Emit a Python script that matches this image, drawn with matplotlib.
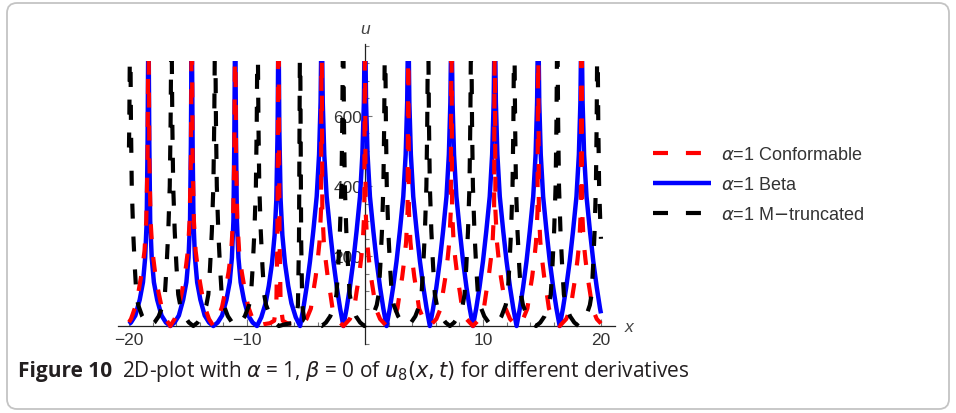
import numpy as np
import matplotlib.pyplot as plt
from matplotlib.patches import FancyBboxPatch, Rectangle
from matplotlib.transforms import IdentityTransform
from matplotlib.ticker import MultipleLocator

# plotted domain
x_start, x_end = -20.0, 20.0
u_clip = 757  # plot range top, curves are cut here

# pole / zero positions
beta_poles = [-18.35, -14.68, -11.0, -7.33, -3.67, 0.0, 3.67, 7.33, 11.0, 14.68, 18.35]
beta_zeros = [-20.2, -16.5, -12.85, -9.15, -5.5, -1.83, 1.83, 5.5, 9.15, 12.85, 16.5, 20.2]
beta_shape = ['narrow'] * 3 + ['mid'] + ['broad'] * 7

conf_poles = [-18.35, -14.68, -11.0, -7.33, -3.67, 0.0, 3.67, 7.33, 11.0, 14.68, 18.35]
conf_zeros = [-20.2, -16.5, -12.85, -9.15, -5.5, -1.83, 1.83, 5.5, 9.15, 12.85, 16.5, 20.2]
conf_shape = ['wide_l'] * 3 + ['spike'] + ['wide_r'] * 7

mtr_poles = [-19.9, -16.4, -12.7, -9.1, -5.5, -1.85, 1.7, 5.35, 9.0, 12.65, 16.3, 19.7]
mtr_zeros = [-21.7, -18.2, -14.55, -10.9, -7.3, -3.67, -0.05, 3.55, 7.2, 10.85, 14.5, 18.1, 21.5]
mtr_shape = ['tight'] * 4 + ['spike'] + ['tight'] * 7

# branch profiles: fraction of the way from zero to pole -> u
profiles = {
    'narrow': ([0, .2, .4, .6, .75, .85, .92, .96, 1.0],
               [0, 10, 30, 75, 125, 195, 300, 520, 900]),
    'mid': ([0, .2, .4, .55, .7, .82, .9, .96, 1.0],
            [0, 25, 65, 115, 180, 260, 360, 560, 900]),
    'broad': ([0, .15, .3, .46, .61, .77, .88, .95, 1.0],
              [0, 50, 110, 185, 270, 370, 490, 640, 900]),
    'wide_l': ([0, .2, .4, .55, .7, .82, .9, .96, 1.0],
               [0, 20, 55, 100, 155, 215, 300, 480, 900]),
    'wide_r': ([0, .3, .5, .61, .72, .82, .9, .97, 1.0],
               [0, 20, 50, 97, 140, 191, 240, 330, 900]),
    'tight': ([0, .2, .4, .6, .69, .77, .85, .92, .96, 1.0],
              [0, 10, 28, 60, 90, 170, 270, 400, 580, 900]),
    'spike': ([0, .3, .6, .8, .9, .95, 1.0],
              [0, 5, 8, 15, 60, 250, 900]),
}


def build_curve(zeros, poles, shapes):
    nodes = sorted([(z, 'z', None) for z in zeros] +
                   [(p, 'p', s) for p, s in zip(poles, shapes)])
    xs, us = [], []
    for (xa, ta, sa), (xb, tb, sb) in zip(nodes[:-1], nodes[1:]):
        if ta == 'z':
            f, u = profiles[sb]
            xs += [xa + fi * (xb - xa) for fi in f]
            us += list(u)
        else:
            f, u = profiles[sa]
            xs += [xb - fi * (xb - xa) for fi in f[::-1]]
            us += list(u[::-1])
    xs, us = np.array(xs), np.array(us)
    keep = (xs > x_start) & (xs < x_end)
    xx = np.concatenate([[x_start], xs[keep], [x_end]])
    uu = np.concatenate([[np.interp(x_start, xs, us)], us[keep], [np.interp(x_end, xs, us)]])
    return xx, uu


fig = plt.figure(figsize=(9.56, 4.14), dpi=100)
W, H = 956, 414

ax = fig.add_axes([118 / W, 1 - 345 / H, (615 - 118) / W, 300 / H])
ax.set_xlim(-20.93, 21.19)
ax.set_ylim(-51.4, 805.7)

clip = Rectangle((-30, -100), 60, u_clip + 100, transform=ax.transData)

dash = (0, (3.6, 4.3))
xb, ub = build_curve(beta_zeros, beta_poles, beta_shape)
xc, uc = build_curve(conf_zeros, conf_poles, conf_shape)
xm, um = build_curve(mtr_zeros, mtr_poles, mtr_shape)

l_beta, = ax.plot(xb, ub, color='#0000ff', lw=3.2, label=r'$\alpha$=1 Beta', zorder=3)
l_conf, = ax.plot(xc, uc, color='#ff0000', lw=3.0, ls=dash, label=r'$\alpha$=1 Conformable', zorder=4)
l_mtr, = ax.plot(xm, um, color='black', lw=3.0, ls=dash, label=r'$\alpha$=1 M$-$truncated', zorder=5)
for ln in (l_beta, l_conf, l_mtr):
    ln.set_clip_path(clip)
    ln.set_solid_capstyle('butt')
    ln.set_dash_capstyle('butt')

# Mathematica style axes through the origin
for s in ('top', 'right'):
    ax.spines[s].set_visible(False)
ax.spines['left'].set_position(('data', 0))
ax.spines['bottom'].set_position(('data', 0))
for s in ('left', 'bottom'):
    ax.spines[s].set_color('#222222')
    ax.spines[s].set_linewidth(0.9)
    ax.spines[s].set_zorder(2)

ax.set_xticks([-20, -10, 10, 20])
ax.set_yticks([200, 400, 600])
ax.xaxis.set_minor_locator(MultipleLocator(2))
ax.yaxis.set_minor_locator(MultipleLocator(50))
ax.tick_params(which='both', direction='in', color='#777777', width=0.8,
               labelsize=12.5, labelcolor='#333333')
ax.tick_params(which='major', length=5)
ax.tick_params(which='minor', length=3)
ax.tick_params(axis='x', pad=4)
ax.tick_params(axis='y', pad=2)
for lab in ax.get_xticklabels() + ax.get_yticklabels():
    lab.set_family('Liberation Sans')
ax.patch.set_alpha(0)

fig.text(365 / W, 1 - 30 / H, 'u', style='italic', fontsize=12.5, color='#444444',
         ha='center', va='center', family='Liberation Sans')
fig.text(629 / W, 1 - 328 / H, 'x', style='italic', fontsize=12.5, color='#444444',
         ha='center', va='center', family='Liberation Sans')

leg = fig.legend(handles=[l_conf, l_beta, l_mtr], loc='center left',
                 bbox_to_anchor=(653 / W, 1 - 186 / H), frameon=False,
                 borderpad=0, borderaxespad=0, handlelength=3.2,
                 handletextpad=0.55, labelspacing=0.72,
                 prop={'family': 'Liberation Sans', 'size': 13})
for t in leg.get_texts():
    t.set_color('#333333')

# caption and card border
fig.text(18 / W, 1 - 372 / H, 'Figure 10', fontsize=15, fontweight='bold',
         family='Open Sans', color='#231f20', va='center')
fig.text(122 / W, 1 - 372 / H,
         r'2D-plot with $\alpha$ = 1, $\beta$ = 0 of $u_8(x, t)$ for different derivatives',
         fontsize=15, family='Open Sans', color='#231f20', va='center')

card = FancyBboxPatch((7, 4), 942, 406, boxstyle='round,pad=0,rounding_size=10',
                      transform=IdentityTransform(), fc='none', ec='#c4c4c4', lw=1.3)
fig.patches.append(card)

fig.savefig('out.png', dpi=100)
